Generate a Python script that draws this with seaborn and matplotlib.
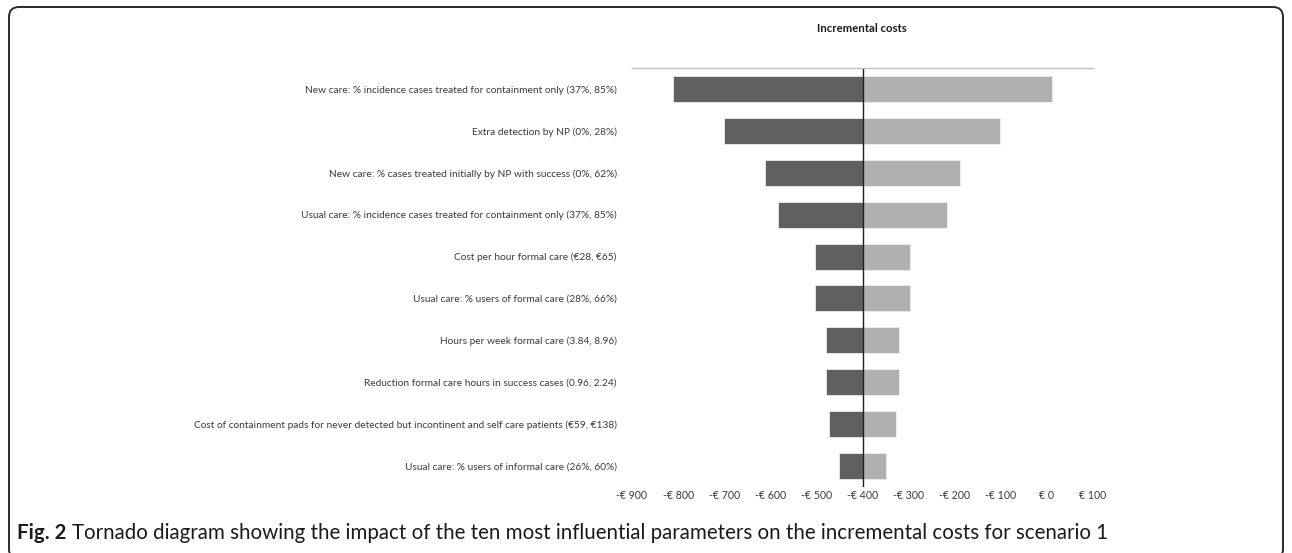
import matplotlib
matplotlib.use('Agg')
import matplotlib.pyplot as plt
import seaborn as sns
import pandas as pd
from matplotlib.patches import FancyBboxPatch
from matplotlib.ticker import FuncFormatter, MultipleLocator
from matplotlib.transforms import IdentityTransform

# parameters, top to bottom
params = [
    'New care: % incidence cases treated for containment only (37%, 85%)',
    'Extra detection by NP (0%, 28%)',
    'New care: % cases treated initially by NP with success (0%, 62%)',
    'Usual care: % incidence cases treated for containment only (37%, 85%)',
    'Cost per hour formal care (€28, €65)',
    'Usual care: % users of formal care (28%, 66%)',
    'Hours per week formal care (3.84, 8.96)',
    'Reduction formal care hours in success cases (0.96, 2.24)',
    'Cost of containment pads for never detected but incontinent and self care patients (€59, €138)',
    'Usual care: % users of informal care (26%, 60%)',
]
low_costs = [-811, -700, -612, -584, -503, -503, -480, -480, -472, -451]
high_costs = [11, -102, -189, -217, -298, -298, -321, -321, -328, -349]
base_cost = -400

# long table, bars drawn as deviations from the base case
df = pd.DataFrame({
    'Parameter': params * 2,
    'Cost': low_costs + high_costs,
    'Bound': ['low'] * len(params) + ['high'] * len(params),
})
df['Delta'] = df['Cost'] - base_cost

sns.set_theme(style='white')
plt.rcParams['font.family'] = ['Lato', 'DejaVu Sans']

W, H = 1292, 553
fig = plt.figure(figsize=(W / 100, H / 100), dpi=100)
ax = fig.add_axes([632 / W, 1 - 487 / H, (1093 - 632) / W, (487 - 68) / H])

sns.barplot(data=df, x='Delta', y='Parameter', hue='Bound', orient='h',
            palette={'low': '#606060', 'high': '#b0b0b0'}, dodge=False,
            width=0.62, edgecolor='#eeeeee', linewidth=0.6, legend=False, ax=ax)

ax.axvline(0, color='#1e1e1e', lw=1.0)
ax.set_xlim(-500, 500)
ax.xaxis.set_major_locator(MultipleLocator(100))


def euro(v, pos):
    v = int(round(v + base_cost))
    return ('-€ %d' % -v) if v < 0 else ('€ %d' % v)


ax.xaxis.set_major_formatter(FuncFormatter(euro))
ax.set_xlabel('')
ax.set_ylabel('')
for s in ['bottom', 'left', 'right']:
    ax.spines[s].set_visible(False)
ax.spines['top'].set_color('#bdbdbd')
ax.spines['top'].set_linewidth(1.0)
ax.tick_params(axis='x', length=0, labelsize=7.6, labelcolor='#3a3a3a', pad=2)
ax.tick_params(axis='y', length=0, labelsize=7.25, labelcolor='#3a3a3a', pad=11)

fig.text(862 / W, 1 - 29 / H, 'Incremental costs', ha='center', va='center',
         fontsize=8.2, fontweight='bold', color='#1a1a1a')

# caption
t1 = fig.text(17 / W, 1 - 533 / H, 'Fig. 2', ha='left', va='center',
              fontsize=14.8, fontweight='bold', color='#1a1a1a')
fig.canvas.draw()
bb = t1.get_window_extent()
fig.text((bb.x1 + 5) / W, 1 - 533 / H,
         'Tornado diagram showing the impact of the ten most influential parameters '
         'on the incremental costs for scenario 1',
         ha='left', va='center', fontsize=14.8, color='#1a1a1a')

# rounded frame, open at the bottom edge
frame = FancyBboxPatch((9, -6), W - 18, H - 7 + 6,
                       boxstyle='round,pad=0,rounding_size=10',
                       fill=False, edgecolor='#2a2a2a', lw=1.4,
                       transform=IdentityTransform())
fig.add_artist(frame)

fig.savefig('out.png', dpi=100)
